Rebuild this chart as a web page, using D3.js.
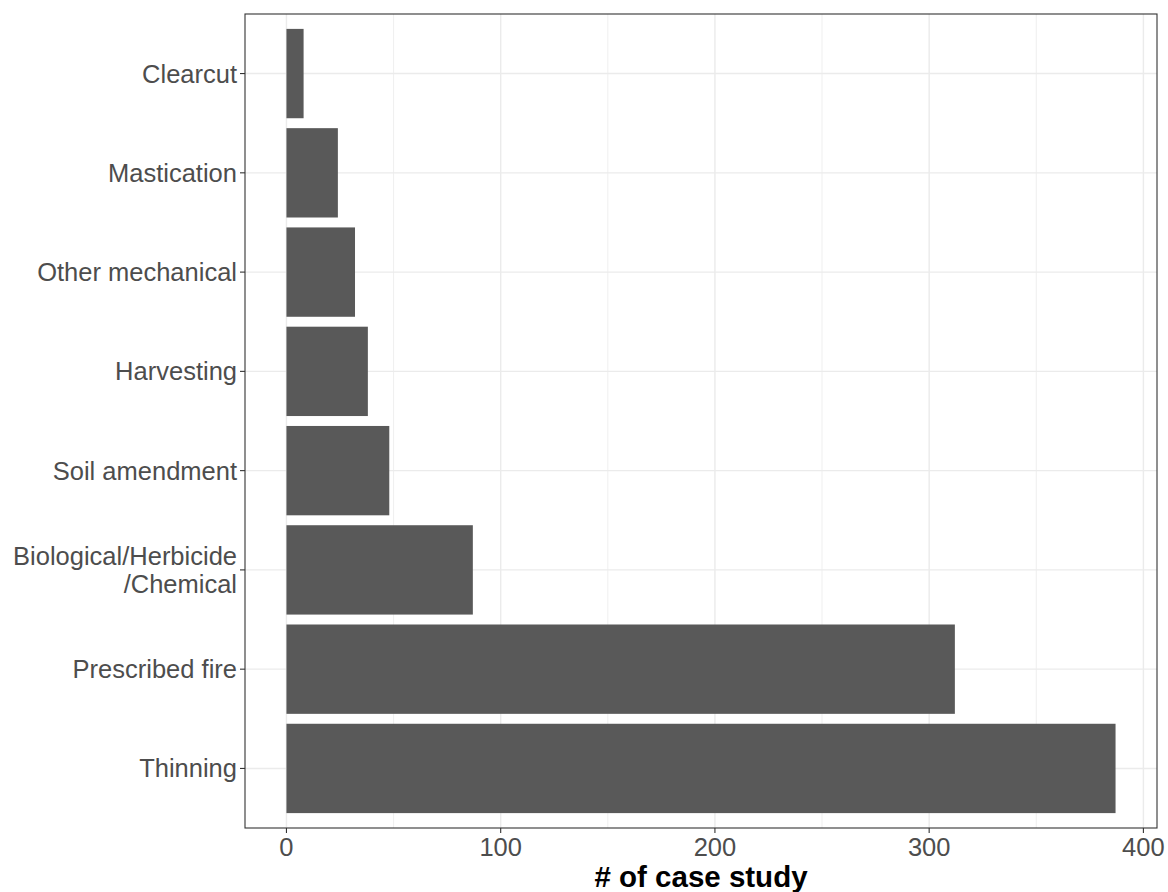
<!DOCTYPE html>
<html>
<head>
<meta charset="utf-8">
<script src="https://cdn.jsdelivr.net/npm/d3@7"></script>
<style>
  body { margin: 0; background: #fff; }
  text { font-family: "Liberation Sans", Arial, sans-serif; }
</style>
</head>
<body>
<script>
// data, top to bottom
var categories = ['Clearcut', 'Mastication', 'Other mechanical', 'Harvesting',
    'Soil amendment', 'Biological/Herbicide\n/Chemical', 'Prescribed fire', 'Thinning'];
var counts = [8, 24, 32, 38, 48, 87, 312, 387];
var xTicks = [0, 100, 200, 300, 400];
var xMinor = [50, 150, 250, 350];

(function() {
    var width = 1168, height = 892;
    var pLeft = 245, pRight = 1157, pTop = 14, pBottom = 828;
    var fontSize = 25.5;

    var svg = d3.select('body')
        .append('svg')
        .attr('width', width)
        .attr('height', height);

    var maxV = d3.max(counts);
    var pad = maxV * 0.05;
    var x = d3.scaleLinear()
        .domain([-pad, maxV + pad])
        .range([pLeft, pRight]);

    // ggplot style discrete axis: 0.6 units of padding each side
    var y = d3.scalePoint()
        .domain(categories)
        .range([pTop, pBottom])
        .padding(0.6);
    var barH = y.step() * 0.9;

    var grid = svg.append('g');
    grid.selectAll('line.minor')
        .data(xMinor)
        .enter().append('line')
        .attr('x1', function(d) { return x(d); })
        .attr('x2', function(d) { return x(d); })
        .attr('y1', pTop).attr('y2', pBottom)
        .attr('stroke', '#ebebeb').attr('stroke-width', 0.8);
    grid.selectAll('line.major')
        .data(xTicks)
        .enter().append('line')
        .attr('x1', function(d) { return x(d); })
        .attr('x2', function(d) { return x(d); })
        .attr('y1', pTop).attr('y2', pBottom)
        .attr('stroke', '#ebebeb').attr('stroke-width', 1.4);
    grid.selectAll('line.hy')
        .data(categories)
        .enter().append('line')
        .attr('x1', pLeft).attr('x2', pRight)
        .attr('y1', function(d) { return y(d); })
        .attr('y2', function(d) { return y(d); })
        .attr('stroke', '#ebebeb').attr('stroke-width', 1.4);

    svg.selectAll('rect.bar')
        .data(counts)
        .enter().append('rect')
        .attr('class', 'bar')
        .attr('x', x(0))
        .attr('y', function(d, i) { return y(categories[i]) - barH / 2; })
        .attr('width', function(d) { return x(d) - x(0); })
        .attr('height', barH)
        .attr('fill', '#595959');

    // panel border
    svg.append('rect')
        .attr('x', pLeft).attr('y', pTop)
        .attr('width', pRight - pLeft).attr('height', pBottom - pTop)
        .attr('fill', 'none').attr('stroke', '#333333').attr('stroke-width', 1.1);

    // x axis
    var xa = svg.append('g');
    xa.selectAll('line')
        .data(xTicks)
        .enter().append('line')
        .attr('x1', function(d) { return x(d); })
        .attr('x2', function(d) { return x(d); })
        .attr('y1', pBottom).attr('y2', pBottom + 5)
        .attr('stroke', '#333333').attr('stroke-width', 1.1);
    xa.selectAll('text')
        .data(xTicks)
        .enter().append('text')
        .attr('x', function(d) { return x(d); })
        .attr('y', pBottom + 28)
        .attr('text-anchor', 'middle')
        .attr('font-size', fontSize)
        .attr('fill', '#4d4d4d')
        .text(function(d) { return d; });

    // y axis
    var ya = svg.append('g');
    ya.selectAll('line')
        .data(categories)
        .enter().append('line')
        .attr('x1', pLeft - 5).attr('x2', pLeft)
        .attr('y1', function(d) { return y(d); })
        .attr('y2', function(d) { return y(d); })
        .attr('stroke', '#333333').attr('stroke-width', 1.1);
    ya.selectAll('text')
        .data(categories)
        .enter().append('text')
        .attr('x', pLeft - 8)
        .attr('y', function(d) { return y(d); })
        .attr('text-anchor', 'end')
        .attr('font-size', fontSize)
        .attr('fill', '#4d4d4d')
        .each(function(d) {
            var lines = d.split('\n');
            var lh = 28;
            var t = d3.select(this);
            lines.forEach(function(l, k) {
                t.append('tspan')
                    .attr('x', pLeft - 8)
                    .attr('dy', k === 0 ? (9 - (lines.length - 1) * lh / 2) : lh)
                    .text(l);
            });
        });

    svg.append('text')
        .attr('x', (pLeft + pRight) / 2)
        .attr('y', 887)
        .attr('text-anchor', 'middle')
        .attr('font-size', 29.5)
        .attr('font-weight', 'bold')
        .attr('fill', '#000')
        .text('# of case study');
})();
</script>
</body>
</html>
